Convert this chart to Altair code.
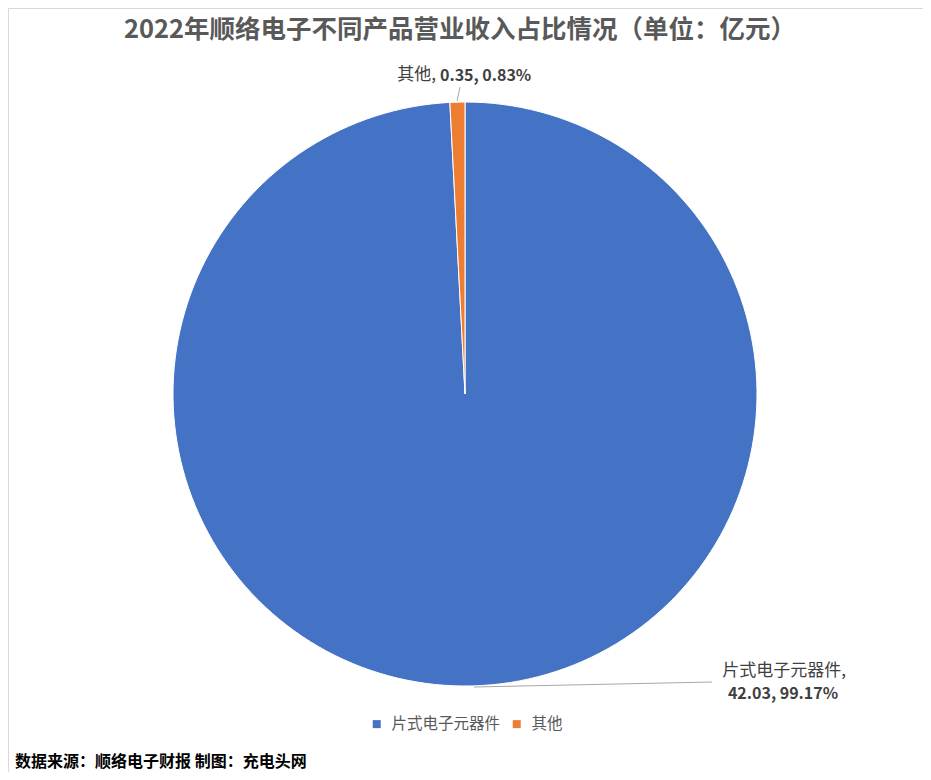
import altair as alt
import pandas as pd

# ---- data ----
categories = ["片式电子元器件", "其他"]
revenues = [42.03, 0.35]
shares = ["99.17%", "0.83%"]
colors = ["#4472C4", "#ED7D31"]

title_text = "2022年顺络电子不同产品营业收入占比情况（单位：亿元）"
source_text = "数据来源：顺络电子财报 制图：充电头网"

# ---- layout (page has an 8px margin) ----
OFF = 8
W, H = 915, 764
CX, CY, R = 465 - OFF, 394 - OFF, 292
FONT = "Noto Sans CJK SC"

df = pd.DataFrame({
    "category": categories,
    "value": revenues,
    "share": shares,
    "idx": list(range(len(categories))),
})

pie = alt.Chart(df).mark_arc(outerRadius=R, stroke="white", strokeWidth=1).encode(
    theta=alt.Theta("value:Q", stack=True),
    color=alt.Color(
        "category:N",
        scale=alt.Scale(domain=categories, range=colors),
        legend=alt.Legend(
            title=None, orient="none", direction="horizontal",
            legendX=369 - OFF, legendY=716 - OFF,
            symbolType="square", symbolSize=64, symbolStrokeWidth=0,
            labelFont=FONT, labelFontSize=15.5, labelColor="#595959",
            labelOffset=7, columnPadding=8, padding=0,
        ),
    ),
    order=alt.Order("idx:Q"),
    x=alt.value(CX),
    y=alt.value(CY),
)

one = pd.DataFrame({"k": [0]})

def text(t, x, y, size, color, weight="normal", align="center"):
    return alt.Chart(one).mark_text(
        text=t, font=FONT, fontSize=size, color=color, fontWeight=weight,
        align=align, baseline="middle",
    ).encode(x=alt.value(x - OFF), y=alt.value(y - OFF))

def rule(x1, y1, x2, y2):
    return alt.Chart(one).mark_rule(color="#a6a6a6", strokeWidth=1).encode(
        x=alt.value(x1 - OFF), y=alt.value(y1 - OFF),
        x2=alt.value(x2 - OFF), y2=alt.value(y2 - OFF),
    )

title = text(title_text, 460, 30, 25.5, "#595959", weight="bold")
source = text(source_text, 15, 762, 16, "#000000", weight="bold", align="left")

# data labels
lab_small_name = text(f"{categories[1]},", 436, 75, 17, "#404040", align="right")
lab_small_vals = text(f"{revenues[1]:.2f}, {shares[1]}", 440, 76, 16, "#404040", weight="bold", align="left")
lab_big_name = text(f"{categories[0]},", 784, 671, 17, "#404040")
lab_big_vals = text(f"{revenues[0]:.2f}, {shares[0]}", 783, 694, 16, "#404040", weight="bold")

lead_small = rule(460, 87, 457, 101)
lead_big = rule(474, 687, 712, 682)

chart = alt.layer(
    pie, lead_small, lead_big, title, source,
    lab_small_name, lab_small_vals, lab_big_name, lab_big_vals,
).properties(
    width=W, height=H,
    autosize=alt.AutoSizeParams(type="fit", contains="padding"),
    padding=0,
).configure_view(stroke="#d9d9d9", strokeWidth=1)

chart.save("out.html", embed_options={"renderer": "svg", "actions": False})
